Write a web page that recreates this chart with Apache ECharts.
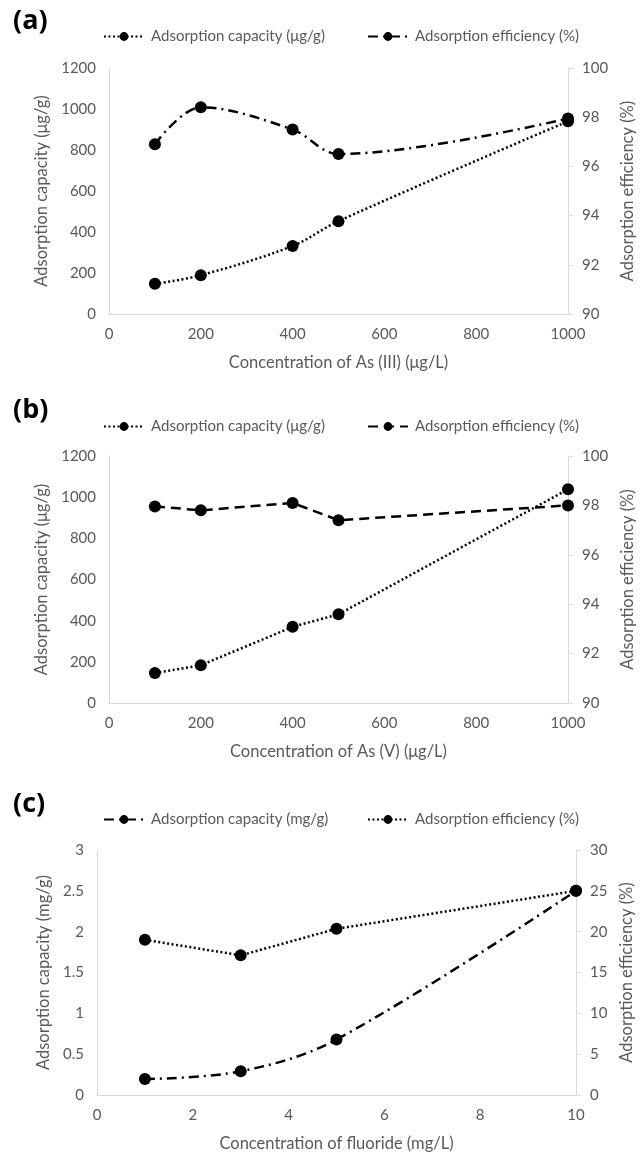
<!DOCTYPE html>
<html><head><meta charset="utf-8">
<script src="https://cdn.jsdelivr.net/npm/echarts@6/dist/echarts.min.js"></script>
<style>html,body{margin:0;padding:0;background:#fff}#c{width:644px;height:1153px}</style>
</head><body><div id="c"></div>
<script>
// Panel (a): As(III)
const concA = [100, 200, 400, 500, 1000];
const capA = [147, 189, 332, 453, 940];
const effA = [96.9, 98.4, 97.5, 96.5, 97.95];
// Panel (b): As(V)
const concB = [100, 200, 400, 500, 1000];
const capB = [146, 183, 370, 431, 1038];
const effB = [97.96, 97.8, 98.1, 97.4, 98.0];
// Panel (c): fluoride
const concC = [1, 3, 5, 10];
const capC = [0.195, 0.29, 0.68, 2.5];
const effC = [19.0, 17.1, 20.35, 25.0];

const panelTitles = ['(a)', '(b)', '(c)'];
const xNames = ['Concentration of As (III) (μg/L)', 'Concentration of As (V) (μg/L)', 'Concentration of fluoride (mg/L)'];
const leftNames = ['Adsorption capacity (μg/g)', 'Adsorption capacity (μg/g)', 'Adsorption capacity (mg/g)'];
const rightNames = ['Adsorption efficiency (%)', 'Adsorption efficiency (%)', 'Adsorption efficiency (%)'];

const FONT = 'Lato';
const GREY = '#595959';
const AXIS = '#d9d9d9';
const DOT = [2, 2.5];
const DASHDOT = [10, 5, 2, 5];
const DASH = [10, 6];

const labelMap = {
  capA: leftNames[0], effA: rightNames[0],
  capB: leftNames[1], effB: rightNames[1],
  capC: leftNames[2], effC: rightNames[2]
};

const grids = [
  {left: 109, right: 76, top: 68, height: 246},
  {left: 109, right: 76, top: 456, height: 247},
  {left: 97, right: 68, top: 850, height: 246}
];

const xRanges = [[0, 1000, 200], [0, 1000, 200], [0, 10, 2]];
const lRanges = [[0, 1200, 200], [0, 1200, 200], [0, 3, 0.5]];
const rRanges = [[90, 100, 2], [90, 100, 2], [0, 30, 5]];
const lGaps = [51, 51, 42];
const rGaps = [48, 48, 41];

const plain = v => String(v);
const xAxes = [], yAxes = [];
for (let i = 0; i < 3; i++) {
  xAxes.push({
    type: 'value', gridIndex: i, min: xRanges[i][0], max: xRanges[i][1], interval: xRanges[i][2],
    name: xNames[i], nameLocation: 'middle', nameGap: 40,
    nameTextStyle: {color: GREY, fontSize: 16.5, fontFamily: FONT},
    axisLine: {show: true, lineStyle: {color: AXIS, width: 1}},
    axisTick: {show: false}, splitLine: {show: false},
    axisLabel: {color: GREY, fontSize: 15, fontFamily: FONT, margin: 13, formatter: plain}
  });
  yAxes.push({
    type: 'value', gridIndex: i, position: 'left', min: lRanges[i][0], max: lRanges[i][1], interval: lRanges[i][2],
    name: leftNames[i], nameLocation: 'middle', nameGap: lGaps[i], nameRotate: 90,
    nameTextStyle: {color: GREY, fontSize: 16.5, fontFamily: FONT},
    axisLine: {show: true, lineStyle: {color: AXIS, width: 1}},
    axisTick: {show: false}, splitLine: {show: false},
    axisLabel: {color: GREY, fontSize: 15, fontFamily: FONT, margin: 13, formatter: plain}
  });
  yAxes.push({
    type: 'value', gridIndex: i, position: 'right', min: rRanges[i][0], max: rRanges[i][1], interval: rRanges[i][2],
    name: rightNames[i], nameLocation: 'middle', nameGap: rGaps[i], nameRotate: 90,
    nameTextStyle: {color: GREY, fontSize: 16.5, fontFamily: FONT},
    axisLine: {show: true, lineStyle: {color: AXIS, width: 1}},
    axisTick: {show: true, length: 5, lineStyle: {color: AXIS}}, splitLine: {show: false},
    axisLabel: {color: GREY, fontSize: 15, fontFamily: FONT, margin: 14, formatter: plain}
  });
}

function pairs(xs, ys) { return xs.map((x, k) => [x, ys[k]]); }
function mkSeries(name, xi, yi, xs, ys, dash, smooth) {
  return {
    name: name, type: 'line', xAxisIndex: xi, yAxisIndex: yi,
    data: pairs(xs, ys), smooth: smooth,
    symbol: 'circle', symbolSize: 12,
    itemStyle: {color: '#000'},
    lineStyle: {color: '#000', width: 2.5, type: dash},
    animation: false, z: 3
  };
}

const series = [
  mkSeries('capA', 0, 0, concA, capA, DOT, 0.35),
  mkSeries('effA', 0, 1, concA, effA, DASHDOT, 0.35),
  mkSeries('capB', 1, 2, concB, capB, DOT, false),
  mkSeries('effB', 1, 3, concB, effB, DASH, false),
  mkSeries('capC', 2, 4, concC, capC, DASHDOT, 0.35),
  mkSeries('effC', 2, 5, concC, effC, DOT, false)
];

function mkLegend(name, left, top) {
  return {
    data: [name], left: left, top: top, itemWidth: 40, itemHeight: 11, itemGap: 0,
    formatter: n => labelMap[n],
    textStyle: {color: GREY, fontSize: 15, fontFamily: FONT, padding: [0, 0, 0, 2]},
    selectedMode: false
  };
}

const legends = [
  mkLegend('capA', 98, 24), mkLegend('effA', 362, 24),
  mkLegend('capB', 98, 414), mkLegend('effB', 362, 414),
  mkLegend('capC', 98, 807), mkLegend('effC', 362, 807)
];

const titleTops = [3, 392, 786];
const titles = panelTitles.map((t, i) => ({
  text: t, left: 8, top: titleTops[i],
  textStyle: {fontSize: 27, fontWeight: 'bold', color: '#000', fontFamily: 'Open Sans'}
}));

const chart = echarts.init(document.getElementById('c'), null, {renderer: 'canvas'});
chart.setOption({
  animation: false,
  backgroundColor: '#fff',
  title: titles,
  legend: legends,
  grid: grids,
  xAxis: xAxes,
  yAxis: yAxes,
  series: series
});
</script></body></html>
